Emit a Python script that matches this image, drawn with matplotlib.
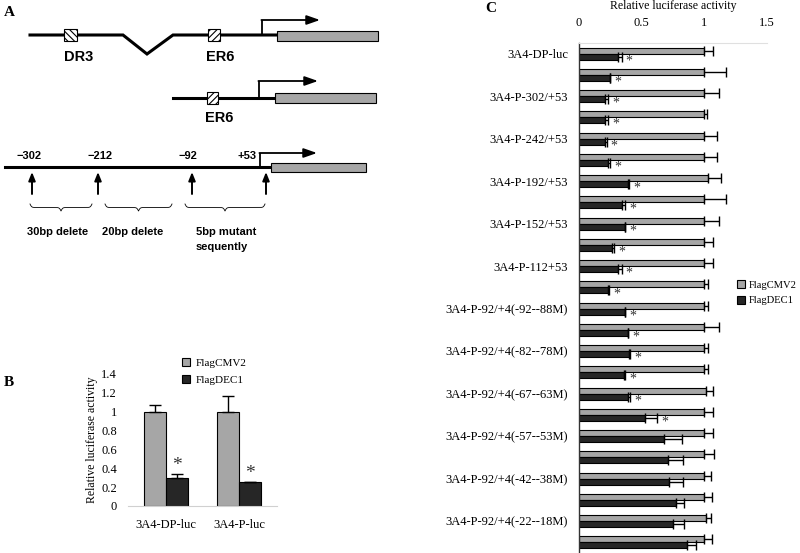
import numpy as np
import matplotlib
matplotlib.use('Agg')
import matplotlib.pyplot as plt
from matplotlib.patches import Rectangle, Patch

plt.rcParams['font.family'] = ['Liberation Serif', 'DejaVu Serif']
plt.rcParams['hatch.linewidth'] = 0.8

GRAY = '#a6a6a6'
DARK = '#262626'

# panel B data
b_groups = ['3A4-DP-luc', '3A4-P-luc']
b_cmv = [1.0, 1.0]
b_cmv_err = [0.07, 0.17]
b_dec = [0.30, 0.25]
b_dec_err = [0.035, 0.0]

# panel C data (24 constructs, every second one labelled)
c_labels = ['3A4-DP-luc', '3A4-P-302/+53', '3A4-P-242/+53', '3A4-P-192/+53',
            '3A4-P-152/+53', '3A4-P-112+53', '3A4-P-92/+4(-92--88M)',
            '3A4-P-92/+4(-82--78M)', '3A4-P-92/+4(-67--63M)',
            '3A4-P-92/+4(-57--53M)', '3A4-P-92/+4(-42--38M)',
            '3A4-P-92/+4(-22--18M)']
c_cmv = [1.0, 1.0, 1.0, 1.0, 1.0, 1.0, 1.03, 1.0, 1.0, 1.0, 1.0, 1.0,
         1.0, 1.0, 1.0, 1.0, 1.01, 1.0, 1.0, 1.0, 1.0, 1.0, 1.01, 1.0]
c_cmv_err = [0.07, 0.17, 0.12, 0.02, 0.10, 0.10, 0.10, 0.17, 0.12, 0.07, 0.07, 0.03,
             0.03, 0.12, 0.03, 0.03, 0.06, 0.07, 0.07, 0.08, 0.05, 0.06, 0.04, 0.06]
c_dec = [0.31, 0.25, 0.21, 0.21, 0.21, 0.23, 0.39, 0.34, 0.37, 0.26, 0.31, 0.23,
         0.37, 0.39, 0.40, 0.36, 0.39, 0.53, 0.68, 0.71, 0.72, 0.77, 0.75, 0.86]
c_dec_err = [0.03, 0.0, 0.02, 0.02, 0.01, 0.02, 0.01, 0.03, 0.0, 0.02, 0.03, 0.01,
             0.0, 0.0, 0.01, 0.01, 0.02, 0.09, 0.14, 0.12, 0.11, 0.07, 0.09, 0.07]
c_signif = 18  # first 18 constructs marked with *

W, H = 800, 553
fig = plt.figure(figsize=(W / 100, H / 100), dpi=100)


def px_axes(left, top, right, bottom):
    return fig.add_axes([left / W, 1 - bottom / H, (right - left) / W, (bottom - top) / H])


# ---------------- panel A (schematic, pixel coordinates) ----------------
axa = fig.add_axes([0, 0, 1, 1])
axa.set_xlim(0, W)
axa.set_ylim(H, 0)
axa.axis('off')
axa.patch.set_alpha(0)

lw = 2.2
bold = dict(family=['Liberation Sans', 'DejaVu Sans'], fontweight='bold')


def tss_arrow(x, y, ytop, xend):
    axa.plot([x, x], [y, ytop], color='black', lw=1.3, solid_capstyle='butt')
    axa.annotate('', xy=(xend, ytop), xytext=(x - 0.6, ytop),
                 arrowprops=dict(arrowstyle='-|>,head_length=0.8,head_width=0.28',
                                 color='black', lw=1.3, shrinkA=0, shrinkB=0))


def hatched_box(x0, x1, y, hatch):
    axa.add_patch(Rectangle((x0, y - 6), x1 - x0, 12, facecolor='white',
                            edgecolor='black', hatch=hatch, lw=0.8, zorder=3))


def gene_box(x0, x1, y0, y1):
    axa.add_patch(Rectangle((x0, y0), x1 - x0, y1 - y0, facecolor=GRAY,
                            edgecolor='black', lw=0.8, zorder=3))


def brace(x0, x1, ytop, h=7):
    x = np.linspace(x0, x1, 401)
    half = x[:201]
    beta = 1.2
    yh = 1 / (1 + np.exp(-beta * (half - half[0]))) + 1 / (1 + np.exp(-beta * (half - half[-1])))
    yv = np.concatenate((yh, yh[-2::-1]))
    axa.plot(x, ytop + (yv - 0.5) * h, color='black', lw=0.6)


# construct 1
axa.plot([30, 123, 147, 173, 277], [35, 35, 54, 35, 35], color='black', lw=lw, solid_joinstyle='miter')
hatched_box(64, 77, 35, '\\\\\\\\\\')
hatched_box(208, 220, 35, '/////')
gene_box(277, 378, 31, 41)
tss_arrow(262, 35, 20, 320)
axa.text(79, 57, 'DR3', ha='center', va='center', fontsize=10.5, **bold)
axa.text(220, 57, 'ER6', ha='center', va='center', fontsize=10.5, **bold)

# construct 2
axa.plot([173, 275], [98, 98], color='black', lw=lw)
hatched_box(207, 218, 98, '/////')
gene_box(275, 376, 93, 103)
tss_arrow(259, 98, 81, 318)
axa.text(219, 118, 'ER6', ha='center', va='center', fontsize=10.5, **bold)

# construct 3
axa.plot([5, 271], [167, 167], color='black', lw=lw)
gene_box(271, 366, 163, 172)
tss_arrow(260, 167, 153, 317)
for xs, lab in [(29, '\u2212302'), (100, '\u2212212'), (188, '\u221292'), (247, '+53')]:
    axa.text(xs, 156, lab, ha='center', va='center', fontsize=8, **bold)
for xs in [32, 98, 192, 266]:
    axa.annotate('', xy=(xs, 172), xytext=(xs, 194),
                 arrowprops=dict(arrowstyle='-|>,head_length=0.5,head_width=0.2',
                                 color='black', lw=1.4, shrinkA=0, shrinkB=0))
brace(30, 92, 204)
brace(105, 172, 204)
brace(185, 265, 204)
axa.text(58, 232, '30bp delete', ha='center', va='center', fontsize=8, **bold)
axa.text(133, 232, '20bp delete', ha='center', va='center', fontsize=8, **bold)
axa.text(196, 232, '5bp mutant', ha='left', va='center', fontsize=8, **bold)
axa.text(196, 247, 'sequently', ha='left', va='center', fontsize=8, **bold)

axa.text(4, 12, 'A', ha='left', va='center', fontsize=11, fontweight='bold')
axa.text(4, 382, 'B', ha='left', va='center', fontsize=11, fontweight='bold')
axa.text(485, 9, 'C', ha='left', va='center', fontsize=11, fontweight='bold')

# ---------------- panel B ----------------
axb = px_axes(128, 374, 277, 506)
xb = np.arange(len(b_groups))
bw = 0.30
axb.bar(xb - bw / 2, b_cmv, bw, color=GRAY, edgecolor='black', lw=0.8,
        yerr=[np.zeros(2), b_cmv_err], error_kw=dict(capsize=4, elinewidth=1, capthick=1))
axb.bar(xb + bw / 2, b_dec, bw, color=DARK, edgecolor='black', lw=0.8,
        yerr=[np.zeros(2), b_dec_err], error_kw=dict(capsize=4, elinewidth=1, capthick=1))
for i in range(len(b_groups)):
    axb.annotate('*', xy=(xb[i] + bw / 2, b_dec[i] + b_dec_err[i]), xytext=(0, 0),
                 textcoords='offset points', ha='center', va='bottom', fontsize=14,
                 color='#333333')
axb.set_xlim(-0.52, 1.52)
axb.set_ylim(0, 1.4)
axb.set_yticks(np.arange(0, 1.41, 0.2))
axb.set_yticklabels(['0', '0.2', '0.4', '0.6', '0.8', '1', '1.2', '1.4'])
axb.set_xticks(xb)
axb.set_xticklabels(b_groups)
axb.tick_params(length=0, labelsize=9)
axb.tick_params(axis='y', pad=8)
axb.tick_params(axis='x', pad=9)
for s in ['left', 'right', 'top']:
    axb.spines[s].set_visible(False)
axb.spines['bottom'].set_color('#d0d0d0')
axb.spines['bottom'].set_linewidth(0.8)
axb.set_ylabel('Relative luciferase activity', fontsize=8.5, labelpad=2)

handles = [Patch(facecolor=GRAY, edgecolor='black', lw=0.8, label='FlagCMV2'),
           Patch(facecolor=DARK, edgecolor='black', lw=0.8, label='FlagDEC1')]
fig.legend(handles=handles, loc='upper left', bbox_to_anchor=(182 / W, 1 - 358 / H),
           frameon=False, fontsize=8, handlelength=0.75, handleheight=0.75,
           handletextpad=0.45, labelspacing=0.6, borderpad=0, borderaxespad=0)

# ---------------- panel C ----------------
axc = px_axes(579, 43, 767, 553)
n = len(c_cmv)
yc = np.arange(n)
bh = 0.28
axc.barh(yc - bh / 2, c_cmv, bh, color=GRAY, edgecolor='black', lw=0.8,
         xerr=[np.zeros(n), c_cmv_err], error_kw=dict(capsize=3.5, elinewidth=1, capthick=1))
axc.barh(yc + bh / 2, c_dec, bh, color=DARK, edgecolor='black', lw=0.8,
         xerr=[np.zeros(n), c_dec_err], error_kw=dict(capsize=3.5, elinewidth=1, capthick=1))
for i in range(c_signif):
    axc.annotate('*', xy=(c_dec[i] + c_dec_err[i], yc[i] + bh / 2), xytext=(3, -3),
                 textcoords='offset points', ha='left', va='center', fontsize=10,
                 color='#333333')
axc.set_xlim(0, 1.5)
axc.set_ylim(n - 0.5, -0.5)
axc.set_xticks([0, 0.5, 1, 1.5])
axc.set_xticklabels(['0', '0.5', '1', '1.5'])
axc.set_yticks(yc[::2])
axc.set_yticklabels(c_labels)
axc.xaxis.tick_top()
axc.xaxis.set_label_position('top')
axc.tick_params(length=0, labelsize=9)
axc.tick_params(axis='x', pad=10)
axc.tick_params(axis='y', pad=8)
for s in ['right', 'bottom']:
    axc.spines[s].set_visible(False)
axc.spines['top'].set_color('#e0e0e0')
axc.spines['top'].set_linewidth(0.8)
axc.spines['left'].set_color('#333333')
axc.spines['left'].set_linewidth(1.0)
axc.set_xlabel('Relative luciferase activity', fontsize=8.5, labelpad=6)

fig.legend(handles=handles, loc='upper left', bbox_to_anchor=(737 / W, 1 - 280 / H),
           frameon=False, fontsize=7.6, handlelength=0.75, handleheight=0.75,
           handletextpad=0.35, labelspacing=0.6, borderpad=0, borderaxespad=0)

fig.savefig('out.png', dpi=100)
